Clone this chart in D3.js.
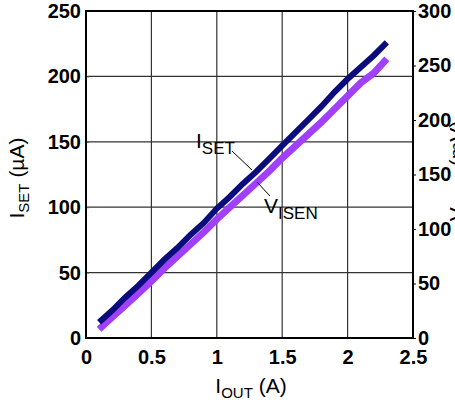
<!DOCTYPE html>
<html><head><meta charset="utf-8">
<script src="https://cdn.jsdelivr.net/npm/d3@7"></script>
<style>
html,body{margin:0;padding:0;background:#fff;overflow:hidden}
text{font-family:"Liberation Sans",Arial,sans-serif;fill:#000}
</style></head>
<body>
<svg id="c" width="455" height="405"></svg>
<script>
// data
const iout  = [0.1,0.2,0.3,0.4,0.5,0.6,0.7,0.8,0.9,1.0,1.1,1.2,1.3,1.4,1.5,1.6,1.7,1.8,1.9,2.0,2.1,2.2,2.3];
const iset  = [12,21,31,40,50,60,69,79,88,99,108,118,127,137,147,157,167,177,188,198,207,216,226];
const visen = [8,19,30,41,52,64,75,86,97,109,120,131,142,153,165,176,187,198,210,222,234,243,256];
const xTicks = [0,0.5,1,1.5,2,2.5];
const xTickLabels = ["0","0.5","1","1.5","2","2.5"];
const yLeftTicks = [0,50,100,150,200,250];
const yRightTicks = [0,50,100,150,200,250,300];

const svg = d3.select("#c");
const L=86, R=413, T=11, B=338;
const x = d3.scaleLinear().domain([0,2.5]).range([L,R]);
const yL = d3.scaleLinear().domain([0,250]).range([B,T]);
const yR = d3.scaleLinear().domain([0,300]).range([B,T]);

// grid
const g = svg.append("g");
g.selectAll("line.vx").data(xTicks.slice(1,-1)).join("line")
  .attr("x1",d=>x(d)).attr("x2",d=>x(d)).attr("y1",T).attr("y2",B)
  .attr("stroke","#333").attr("stroke-width",1.2);
g.selectAll("line.hy").data(yLeftTicks.slice(1,-1)).join("line")
  .attr("x1",L).attr("x2",R).attr("y1",d=>yL(d)).attr("y2",d=>yL(d))
  .attr("stroke","#333").attr("stroke-width",1.2);

// axes (ticks + labels)
const fs = "20px";
const axL = svg.append("g").attr("transform",`translate(${L},0)`)
  .call(d3.axisLeft(yL).tickValues(yLeftTicks).tickSize(-3).tickPadding(5));
axL.select(".domain").remove();
axL.selectAll("text").style("font-size",fs).style("font-weight","bold");
axL.selectAll("line").attr("stroke","#666");

const axB = svg.append("g").attr("transform",`translate(0,${B})`)
  .call(d3.axisBottom(x).tickValues(xTicks).tickFormat((d,i)=>xTickLabels[i]).tickSize(0).tickPadding(12));
axB.select(".domain").remove();
axB.selectAll("text").style("font-size",fs).style("font-weight","bold");

const axR = svg.append("g").attr("transform",`translate(${R},0)`)
  .call(d3.axisRight(yR).tickValues(yRightTicks).tickSize(3).tickPadding(2));
axR.select(".domain").remove();
axR.selectAll("text").style("font-size",fs).style("font-weight","bold");
axR.selectAll("line").attr("stroke","#000");

// frame
svg.append("rect").attr("x",L).attr("y",T).attr("width",R-L).attr("height",B-T)
  .attr("fill","none").attr("stroke","#000").attr("stroke-width",2);

// series
const lineL = d3.line().x((d,i)=>x(iout[i])).y(d=>yL(d));
const lineR = d3.line().x((d,i)=>x(iout[i])).y(d=>yR(d));
svg.append("path").datum(visen).attr("d",lineR).attr("fill","none")
  .attr("stroke","#a040fa").attr("stroke-width",7);
svg.append("path").datum(iset).attr("d",lineL).attr("fill","none")
  .attr("stroke","#0c0c7c").attr("stroke-width",6);

// annotations
svg.append("line").attr("x1",232).attr("y1",151).attr("x2",252).attr("y2",170).attr("stroke","#000").attr("stroke-width",1);
svg.append("line").attr("x1",257).attr("y1",182).attr("x2",270).attr("y2",196).attr("stroke","#000").attr("stroke-width",1);
const a1 = svg.append("text").attr("x",196).attr("y",148).style("font-size","21px");
a1.append("tspan").text("I");
a1.append("tspan").attr("dy",6).style("font-size","17px").text("SET");
const a2 = svg.append("text").attr("x",264).attr("y",213).style("font-size","21px");
a2.append("tspan").text("V");
a2.append("tspan").attr("dy",6).style("font-size","17px").text("ISEN");

// axis titles
const tx = svg.append("text").attr("x",251).attr("y",393).attr("text-anchor","middle").style("font-size","21px");
tx.append("tspan").text("I");
tx.append("tspan").attr("dy",5).style("font-size","15px").text("OUT");
tx.append("tspan").attr("dy",-5).text(" (A)");

const ty = svg.append("text").attr("transform","translate(24,178) rotate(-90)").attr("text-anchor","middle").style("font-size","21px");
ty.append("tspan").text("I");
ty.append("tspan").attr("dy",5).style("font-size","15px").text("SET");
ty.append("tspan").attr("dy",-5).text(" (µA)");

const tr = svg.append("text").attr("transform","translate(464,171) rotate(-90)").attr("text-anchor","middle").style("font-size","21px");
tr.append("tspan").text("V");
tr.append("tspan").attr("dy",5).style("font-size","15px").text("ISEN");
tr.append("tspan").attr("dy",-5).text(" (mV)");
</script>
</body></html>
